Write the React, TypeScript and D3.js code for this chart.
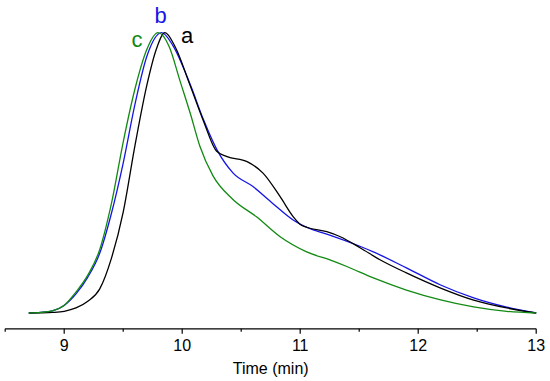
import React from "react";
import * as d3 from "d3";

// Time (min) and normalized detector response for each sample
const aTime = [8.70, 8.80, 8.90, 9.00, 9.10, 9.20, 9.30, 9.40, 9.50, 9.60, 9.70, 9.78, 9.854, 9.94, 10.066, 10.18, 10.29, 10.38, 10.55, 10.685, 10.83, 10.94, 11.0, 11.06, 11.225, 11.34, 11.51, 11.68, 11.90, 12.19, 12.47, 12.75, 13.0];
const aValue = [0.0, 0.0005, 0.002, 0.006, 0.018, 0.042, 0.085, 0.195, 0.36, 0.598, 0.812, 0.94, 1.0, 0.95, 0.813, 0.685, 0.578, 0.558, 0.54, 0.499, 0.415, 0.344, 0.316, 0.305, 0.29, 0.272, 0.232, 0.189, 0.143, 0.089, 0.046, 0.018, 0.0];

const bTime = [8.70, 8.80, 8.90, 9.00, 9.10, 9.20, 9.30, 9.40, 9.50, 9.60, 9.70, 9.826, 9.92, 10.07, 10.18, 10.295, 10.43, 10.60, 10.77, 10.94, 11.10, 11.25, 11.50, 11.62, 11.90, 12.19, 12.47, 12.75, 13.0];
const bValue = [0.0, 0.002, 0.008, 0.027, 0.068, 0.128, 0.212, 0.355, 0.535, 0.745, 0.915, 1.0, 0.955, 0.813, 0.69, 0.582, 0.5, 0.451, 0.39, 0.332, 0.298, 0.278, 0.239, 0.218, 0.161, 0.1, 0.054, 0.021, 0.0];

const cTime = [8.70, 8.80, 8.90, 9.00, 9.10, 9.20, 9.30, 9.40, 9.50, 9.60, 9.70, 9.795, 9.89, 9.98, 10.07, 10.15, 10.26, 10.43, 10.63, 10.83, 11.05, 11.28, 11.40, 11.62, 11.90, 12.19, 12.47, 12.75, 13.0];
const cValue = [0.0, 0.002, 0.008, 0.028, 0.075, 0.135, 0.225, 0.39, 0.61, 0.80, 0.94, 1.0, 0.95, 0.83, 0.71, 0.595, 0.49, 0.405, 0.343, 0.272, 0.219, 0.185, 0.165, 0.125, 0.082, 0.047, 0.022, 0.006, 0.0];

const seriesNames = ["b", "a", "c"];
const majorTicks = [9, 10, 11, 12, 13];
const minorTicks = [8.5, 9.5, 10.5, 11.5, 12.5];
const axisTitle = "Time (min)";

export default function App() {
  const width = 550;
  const height = 381;
  const x = d3.scaleLinear().domain([9, 13]).range([64.2, 536.2]);
  const y = d3.scaleLinear().domain([0, 1]).range([313, 32.7]);
  const axisY = 328.8;

  const series = [
    { name: seriesNames[0], t: bTime, v: bValue, color: "#1414e6" },
    { name: seriesNames[1], t: aTime, v: aValue, color: "#000000" },
    { name: seriesNames[2], t: cTime, v: cValue, color: "#128a12" },
  ];

  const line = d3
    .line<[number, number]>()
    .x((d) => x(d[0]))
    .y((d) => y(d[1]))
    .curve(d3.curveMonotoneX);

  const font = "'Liberation Sans', Arial, sans-serif";

  return (
    <svg
      width={width}
      height={height}
      style={{ position: "absolute", left: 0, top: 0, background: "#fff" }}
    >
      {series.map((s) => (
        <path
          key={s.name}
          d={line(s.t.map((t, i) => [t, s.v[i]] as [number, number])) || ""}
          fill="none"
          stroke={s.color}
          strokeWidth={1.3}
        />
      ))}
      <line x1={x(8.5)} x2={x(13)} y1={axisY} y2={axisY} stroke="#000" strokeWidth={1.2} />
      {majorTicks.map((t) => (
        <g key={"M" + t}>
          <line x1={x(t)} x2={x(t)} y1={axisY} y2={axisY + 5} stroke="#000" strokeWidth={1.2} />
          <text x={x(t)} y={351} textAnchor="middle" fontFamily={font} fontSize={16} fill="#000">
            {t}
          </text>
        </g>
      ))}
      {minorTicks.map((t) => (
        <line key={"m" + t} x1={x(t)} x2={x(t)} y1={axisY} y2={axisY + 3} stroke="#000" strokeWidth={1.2} />
      ))}
      <text x={(x(8.5) + x(13)) / 2} y={374} textAnchor="middle" fontFamily={font} fontSize={16} fill="#000">
        {axisTitle}
      </text>
      <text x={181} y={42.7} fontFamily={font} fontSize={22} fill="#000">a</text>
      <text x={154.5} y={23} fontFamily={font} fontSize={22} fill="#1414e6">b</text>
      <text x={131.5} y={46.5} fontFamily={font} fontSize={22} fill="#128a12">c</text>
    </svg>
  );
}
